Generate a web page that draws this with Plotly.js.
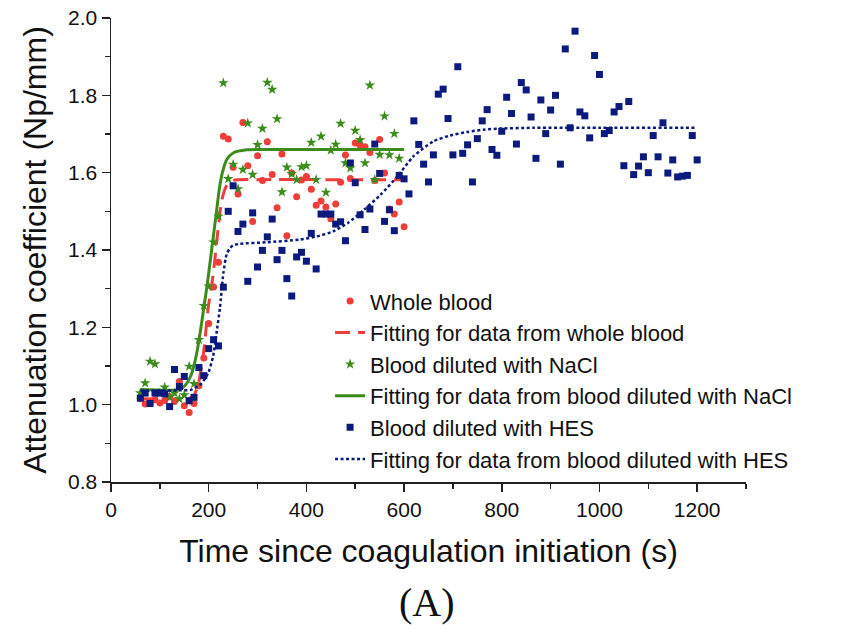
<!DOCTYPE html>
<html>
<head>
<meta charset="utf-8">
<script src="https://cdn.plot.ly/plotly-3.0.1.min.js"></script>
<style>
html,body{margin:0;padding:0;background:#fff;}
#chart{width:850px;height:630px;}
</style>
</head>
<body>
<div id="chart"></div>
<script>
// Whole blood measurements
const wbTime = [60,70,80,90,100,110,120,130,140,150,160,170,180,190,200,210,220,230,240,250,260,270,280,290,300,310,320,330,340,350,360,370,380,390,400,410,420,430,440,450,460,470,480,490,500,510,520,530,540,550,560,570,580,590,600];
const wbVal  = [1.015,1.002,1.004,1.013,1.004,1.011,1.021,1.008,1.060,0.997,0.980,1.003,1.049,1.121,1.210,1.304,1.368,1.694,1.687,1.614,1.545,1.730,1.618,1.474,1.644,1.580,1.680,1.595,1.509,1.648,1.437,1.599,1.538,1.581,1.590,1.557,1.516,1.527,1.511,1.481,1.519,1.575,1.646,1.585,1.677,1.671,1.667,1.652,1.580,1.686,1.599,1.506,1.493,1.524,1.460];
// Whole blood fit
const wbFitTime = [60,120,160,170,179,190,199,209,218,227,237,250,300,450,600];
const wbFitVal  = [1.015,1.015,1.016,1.025,1.055,1.140,1.250,1.335,1.440,1.530,1.567,1.580,1.582,1.582,1.582];

// Blood diluted with NaCl
const naTime = [60,70,80,90,100,110,120,130,140,150,160,170,180,190,200,210,220,230,240,250,260,270,280,290,300,310,320,330,340,350,360,370,380,390,400,410,420,430,440,450,460,470,480,490,500,510,520,530,540,550,560,570,580,590];
const naVal  = [1.030,1.056,1.112,1.105,1.030,1.045,1.020,1.030,1.015,1.025,1.099,1.054,1.168,1.256,1.306,1.420,1.487,1.832,1.584,1.621,1.558,1.608,1.728,1.595,1.672,1.714,1.833,1.815,1.739,1.550,1.614,1.597,1.582,1.615,1.618,1.678,1.582,1.694,1.549,1.658,1.673,1.727,1.625,1.612,1.709,1.685,1.625,1.826,1.582,1.647,1.746,1.646,1.701,1.637];
// NaCl fit
const naFitTime = [60,140,152,165,175,183,190,197,204,210,216,222,228,237,250,278,350,600];
const naFitVal  = [1.039,1.039,1.050,1.080,1.130,1.190,1.250,1.310,1.380,1.440,1.500,1.560,1.600,1.634,1.651,1.659,1.660,1.660];

// Blood diluted with HES
const hesTime = [60,70,80,90,100,110,120,130,140,150,160,170,180,190,200,210,220,230,240,250,260,270,280,290,300,310,320,330,340,350,360,370,380,390,400,410,420,430,440,450,460,470,480,490,500,510,520,530,540,550,560,570,580,590,600,610,620,630,640,650,660,670,680,690,700,710,720,730,740,750,760,770,780,790,800,810,820,830,840,850,860,870,880,890,900,910,920,930,940,950,960,970,980,990,1000,1010,1020,1030,1040,1050,1060,1070,1080,1090,1100,1110,1120,1130,1140,1150,1160,1170,1180,1190,1200];
const hesVal  = [1.017,1.030,1.003,1.030,1.030,1.028,0.995,1.091,1.047,1.073,1.010,1.019,1.096,1.075,1.145,1.168,1.152,1.304,1.500,1.566,1.448,1.467,1.319,1.496,1.356,1.399,1.434,1.480,1.375,1.399,1.326,1.281,1.382,1.394,1.371,1.443,1.351,1.493,1.493,1.493,1.467,1.473,1.424,1.625,1.574,1.491,1.453,1.506,1.674,1.598,1.474,1.504,1.450,1.593,1.584,1.545,1.734,1.673,1.622,1.576,1.646,1.803,1.816,1.740,1.646,1.874,1.650,1.672,1.576,1.688,1.734,1.763,1.660,1.645,1.707,1.795,1.753,1.674,1.833,1.814,1.744,1.637,1.788,1.701,1.762,1.800,1.622,1.920,1.716,1.966,1.757,1.747,1.690,1.903,1.854,1.701,1.709,1.757,1.771,1.618,1.784,1.595,1.617,1.641,1.600,1.696,1.641,1.729,1.599,1.633,1.589,1.591,1.593,1.696,1.633];
// HES fit
const hesFitTime = [60,140,165,186,199,209,216,223,230,237,244,250,264,319,387,421,455,485,518,552,586,619,660,694,728,762,796,865,1000,1200];
const hesFitVal  = [1.036,1.037,1.039,1.056,1.082,1.125,1.185,1.250,1.340,1.390,1.405,1.412,1.416,1.420,1.427,1.435,1.448,1.470,1.504,1.543,1.590,1.642,1.681,1.696,1.705,1.711,1.714,1.716,1.716,1.716];

const xTicks = [0,200,400,600,800,1000,1200];
const yTicks = [0.8,1.0,1.2,1.4,1.6,1.8,2.0];
const yTickText = ['0.8','1.0','1.2','1.4','1.6','1.8','2.0'];

const RED = '#ef3e3a', GREEN = '#3c8c1c', NAVY = '#0b1a7c';

const traces = [
  {x: wbTime, y: wbVal, type:'scatter', mode:'markers', name:'Whole blood',
   marker:{symbol:'circle', size:7, color:RED}},
  {x: wbFitTime, y: wbFitVal, type:'scatter', mode:'lines', name:'Fitting for data from whole blood',
   line:{color:RED, width:3, dash:'15px,8px', shape:'spline', smoothing:0.6}},
  {x: naTime, y: naVal, type:'scatter', mode:'markers', name:'Blood diluted with NaCl',
   marker:{symbol:'star', size:8, color:GREEN}},
  {x: naFitTime, y: naFitVal, type:'scatter', mode:'lines', name:'Fitting for data from blood diluted with NaCl',
   line:{color:GREEN, width:3, shape:'spline', smoothing:0.6}},
  {x: hesTime, y: hesVal, type:'scatter', mode:'markers', name:'Blood diluted with HES',
   marker:{symbol:'square', size:7, color:NAVY}},
  {x: hesFitTime, y: hesFitVal, type:'scatter', mode:'lines', name:'Fitting for data from blood diluted with HES',
   line:{color:NAVY, width:2.5, dash:'3px,2.5px', shape:'spline', smoothing:0.6}}
];

const FONT = 'Liberation Sans, Arial, sans-serif';
const layout = {
  width:850, height:630,
  margin:{l:111, r:104, t:18, b:148},
  paper_bgcolor:'#fff', plot_bgcolor:'#fff',
  font:{family:FONT, color:'#111'},
  showlegend:true,
  legend:{x:0.345, xanchor:'left', y:0.435, yanchor:'top', bgcolor:'rgba(0,0,0,0)',
          font:{family:FONT, size:22, color:'#111'}, tracegroupgap:0, itemwidth:30},
  xaxis:{range:[0,1300], tickvals:xTicks, ticks:'outside', ticklen:8, tickwidth:1.5, tickcolor:'#222',
         minor:{dtick:100, ticks:'outside', ticklen:5, tickwidth:1.5, tickcolor:'#222'},
         showline:true, linecolor:'#222', linewidth:1.5, showgrid:false, zeroline:false, mirror:false,
         tickfont:{family:FONT, size:21, color:'#111'},
         title:{text:'Time since coagulation initiation (s)', font:{family:FONT, size:32, color:'#111'}, standoff:20}},
  yaxis:{range:[0.8,2.0], tickvals:yTicks, ticktext:yTickText, ticks:'outside', ticklen:8, tickwidth:1.5, tickcolor:'#222',
         minor:{dtick:0.1, ticks:'outside', ticklen:5, tickwidth:1.5, tickcolor:'#222'},
         showline:true, linecolor:'#222', linewidth:1.5, showgrid:false, zeroline:false, mirror:false,
         tickfont:{family:FONT, size:21, color:'#111'},
         title:{text:'Attenuation coefficient (Np/mm)', font:{family:FONT, size:32, color:'#111'}, standoff:12}},
  annotations:[{text:'(A)', xref:'paper', yref:'paper', x:0.4976, y:-0.26, xanchor:'center', yanchor:'middle',
                showarrow:false, font:{family:'Liberation Serif, Times New Roman, serif', size:40, color:'#111'}}]
};

Plotly.newPlot('chart', traces, layout, {displayModeBar:false, staticPlot:true});
</script>
</body>
</html>
